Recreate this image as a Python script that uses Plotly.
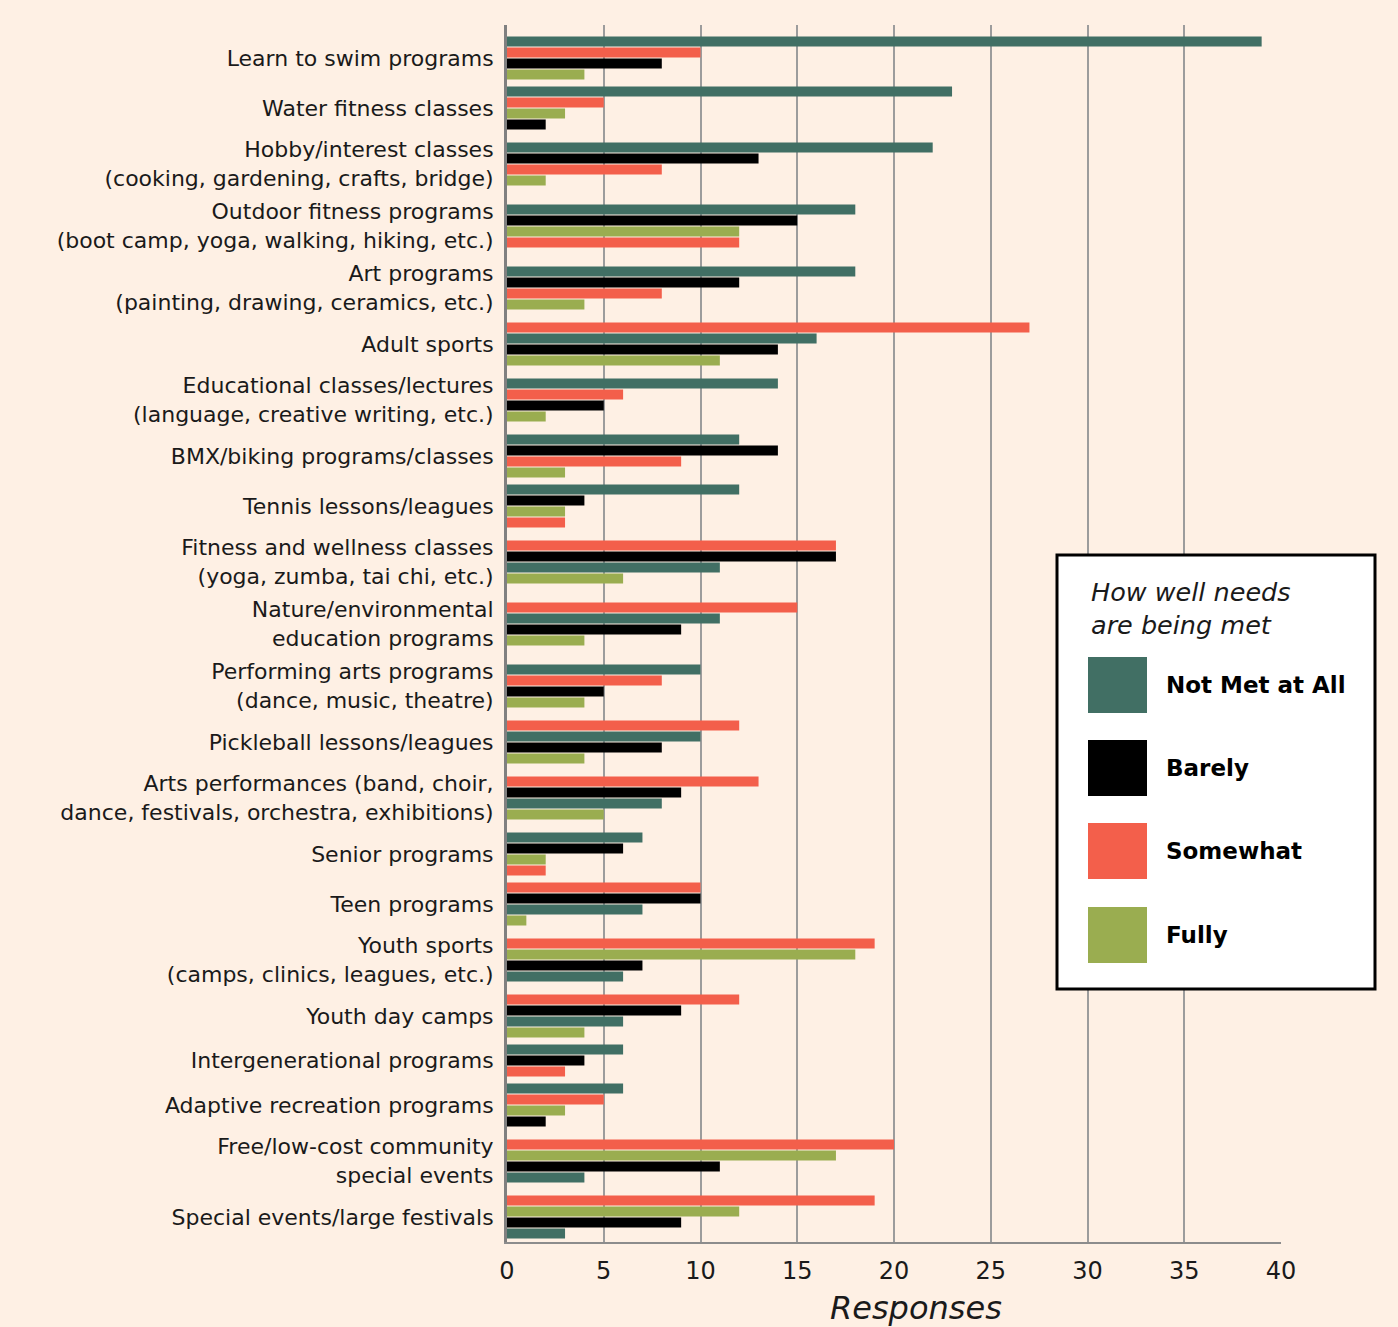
import plotly.graph_objects as go

# ---- data -------------------------------------------------------------
categories = [
    "Learn to swim programs",
    "Water fitness classes",
    "Hobby/interest classes<br>(cooking, gardening, crafts, bridge)",
    "Outdoor fitness programs<br>(boot camp, yoga, walking, hiking, etc.)",
    "Art programs<br>(painting, drawing, ceramics, etc.)",
    "Adult sports",
    "Educational classes/lectures<br>(language, creative writing, etc.)",
    "BMX/biking programs/classes",
    "Tennis lessons/leagues",
    "Fitness and wellness classes<br>(yoga, zumba, tai chi, etc.)",
    "Nature/environmental<br>education programs",
    "Performing arts programs<br>(dance, music, theatre)",
    "Pickleball lessons/leagues",
    "Arts performances (band, choir,<br>dance, festivals, orchestra, exhibitions)",
    "Senior programs",
    "Teen programs",
    "Youth sports<br>(camps, clinics, leagues, etc.)",
    "Youth day camps",
    "Intergenerational programs",
    "Adaptive recreation programs",
    "Free/low-cost community<br>special events",
    "Special events/large festivals",
]

not_met_at_all = [39, 23, 22, 18, 18, 16, 14, 12, 12, 11, 11, 10, 10, 8, 7, 7, 6, 6, 6, 6, 4, 3]
barely         = [8, 2, 13, 15, 12, 14, 5, 14, 4, 17, 9, 5, 8, 9, 6, 10, 7, 9, 4, 2, 11, 9]
somewhat       = [10, 5, 8, 12, 8, 27, 6, 9, 3, 17, 15, 8, 12, 13, 2, 10, 19, 12, 3, 5, 20, 19]
fully          = [4, 3, 2, 12, 4, 11, 2, 3, 3, 6, 4, 4, 4, 5, 2, 1, 18, 4, 0, 3, 17, 12]

# top-to-bottom order of the bars inside each group
# N = Not Met at All, B = Barely, S = Somewhat, F = Fully
bar_order = [
    "NSBF", "NSFB", "NBSF", "NBFS", "NBSF", "SNBF", "NSBF", "NBSF", "NBFS",
    "SBNF", "SNBF", "NSBF", "SNBF", "SBNF", "NBFS", "SBNF", "SFBN", "SBNF",
    "NBSF", "NSFB", "SFBN", "SFBN",
]

series_names = {"N": "Not Met at All", "B": "Barely", "S": "Somewhat", "F": "Fully"}
series_values = {"N": not_met_at_all, "B": barely, "S": somewhat, "F": fully}
series_colors = {"N": "#416F64", "B": "#000000", "S": "#F35F4B", "F": "#9AAD50"}

x_ticks = [0, 5, 10, 15, 20, 25, 30, 35, 40]

# ---- layout constants (y units = one bar slot) ------------------------
SLOT_PX = 11.0
PAD_ONE_LINE = 3 / SLOT_PX
PAD_TWO_LINE = 9 / SLOT_PX
TOP_PAD = 8 / SLOT_PX
BAR_WIDTH = 10 / SLOT_PX

FONT = "DejaVu Sans"
TEXT = "#1a1a1a"
BG = "#FEF0E4"

# ---- bar positions ----------------------------------------------------
pos = {k: ([], []) for k in series_names}
centers = []
cursor = 0.0
for i, label in enumerate(categories):
    pad = PAD_TWO_LINE if "<br>" in label else PAD_ONE_LINE
    keys = [k for k in bar_order[i] if series_values[k][i] > 0]
    for j, k in enumerate(keys):
        pos[k][0].append(series_values[k][i])
        pos[k][1].append(cursor + pad + j + 0.5)
    centers.append(cursor + pad + len(keys) / 2)
    cursor += 2 * pad + len(keys)
y_bottom = cursor

fig = go.Figure()
for k in "NBSF":
    xs, ys = pos[k]
    fig.add_trace(go.Bar(
        x=xs, y=ys, orientation="h", width=BAR_WIDTH,
        name=series_names[k], marker=dict(color=series_colors[k], line=dict(width=0)),
        showlegend=False,
    ))

# plot area in pixels
W, H = 1398, 1327
L, R, T, B = 507, 1281, 25, 1242


def px(x):
    return (x - L) / (R - L)


def py(y):
    return (B - y) / (B - T)


fig.update_layout(
    width=W, height=H,
    margin=dict(l=L, r=W - R, t=T, b=H - B, autoexpand=False),
    paper_bgcolor=BG, plot_bgcolor=BG,
    barmode="overlay",
    font=dict(family=FONT, color=TEXT, size=20),
    xaxis=dict(
        range=[0, 40], tickvals=x_ticks, showgrid=True, gridcolor="#9c9c9c", gridwidth=2,
        showline=True, linecolor="#8c8c8c", linewidth=2, zeroline=False, ticks="",
        tickfont=dict(size=24, color=TEXT), ticklabelstandoff=6,
    ),
    yaxis=dict(
        range=[y_bottom, -TOP_PAD], tickvals=centers, ticktext=categories,
        showgrid=False, showline=True, linecolor="#808080", linewidth=3,
        zeroline=False, ticks="", tickfont=dict(size=22, color=TEXT),
        ticklabelstandoff=6,
    ),
)

# axis title
fig.add_annotation(
    text="<i>Responses</i>", x=px(916), y=py(1308), xref="paper", yref="paper",
    showarrow=False, font=dict(size=32, color=TEXT), xanchor="center", yanchor="middle",
)

# ---- legend box -------------------------------------------------------
fig.add_shape(
    type="rect", xref="paper", yref="paper",
    x0=px(1057), x1=px(1375), y0=py(555), y1=py(989),
    fillcolor="white", line=dict(color="black", width=3), layer="above",
)
fig.add_annotation(
    text="<i>How well needs<br>are being met</i>", x=px(1089), y=py(608),
    xref="paper", yref="paper", showarrow=False, align="left",
    xanchor="left", yanchor="middle", font=dict(size=25.5, color=TEXT),
)
legend_rows = [657, 740, 823, 907]
for row_top, k in zip(legend_rows, "NBSF"):
    fig.add_shape(
        type="rect", xref="paper", yref="paper",
        x0=px(1088), x1=px(1147), y0=py(row_top), y1=py(row_top + 56),
        fillcolor=series_colors[k], line=dict(width=0), layer="above",
    )
    fig.add_annotation(
        text="<b>" + series_names[k] + "</b>", x=px(1164), y=py(row_top + 28),
        xref="paper", yref="paper", showarrow=False, xanchor="left", yanchor="middle",
        font=dict(size=23, color="black"),
    )

fig.write_html("out.html")
